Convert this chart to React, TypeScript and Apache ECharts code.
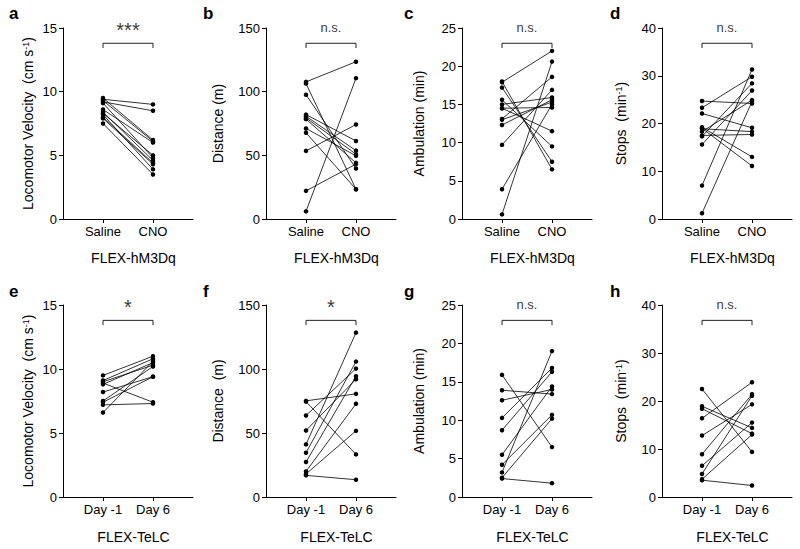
import React, { useEffect, useRef } from "react";
import * as echarts from "echarts";

// ---- data ----
const panelLetters = ["a", "b", "c", "d", "e", "f", "g", "h"];
const topGroups = ["Saline", "CNO"];
const bottomGroups = ["Day -1", "Day 6"];
const topGroupName = "FLEX-hM3Dq";
const bottomGroupName = "FLEX-TeLC";
const yNames = [
  "Locomotor Velocity  (cm s{sup|-1})",
  "Distance (m)",
  "Ambulation (min)",
  "Stops  (min{sup|-1})",
  "Locomotor Velocity  (cm s{sup|-1})",
  "Distance  (m)",
  "Ambulation (min)",
  "Stops  (min{sup|-1})",
];
const yMax = [15, 150, 25, 40, 15, 150, 25, 40];
const yInterval = [5, 50, 5, 10, 5, 50, 5, 10];
const significance = ["***", "n.s.", "n.s.", "n.s.", "*", "*", "n.s.", "n.s."];

// hM3Dq: Saline -> CNO
const velocityM3Saline = [9.4, 9.2, 9.5, 9.3, 8.6, 8.3, 9.1, 8.4, 8.0, 7.9, 8.2, 7.5];
const velocityM3CNO = [9.0, 8.5, 6.2, 6.1, 6.0, 5.0, 4.8, 4.6, 4.4, 4.3, 3.9, 3.5];
const distanceM3Saline = [107.7, 6.0, 53.5, 22.1, 106.4, 97.6, 82.0, 80.7, 79.4, 78.4, 71.1, 67.7];
const distanceM3CNO = [123.5, 110.6, 74.2, 43.1, 23.4, 39.7, 61.3, 53.7, 50.9, 44.1, 49.6, 23.4];
const ambulationM3Saline = [17.9, 0.6, 3.9, 9.7, 18.0, 17.2, 15.6, 15.0, 14.5, 14.5, 13.1, 13.0, 12.3];
const ambulationM3CNO = [22.0, 20.6, 15.0, 16.9, 6.5, 7.5, 9.5, 15.9, 14.6, 11.5, 18.6, 15.3, 15.6];
const stopsM3Saline = [24.7, 23.3, 22.1, 19.2, 19.0, 18.9, 17.5, 17.3, 15.6, 7.0, 1.2, 18.3];
const stopsM3CNO = [24.2, 29.8, 19.1, 13.0, 11.1, 18.3, 17.7, 28.4, 26.9, 31.3, 24.6, 24.9];

// TeLC: Day -1 -> Day 6
const velocityTeBefore = [9.5, 9.1, 9.0, 8.9, 8.8, 8.2, 7.5, 7.4, 7.2, 6.6];
const velocityTeAfter = [11.0, 10.8, 10.3, 7.4, 10.5, 9.4, 10.2, 9.4, 7.3, 10.6];
const distanceTeBefore = [75.1, 74.5, 63.7, 52.0, 41.1, 34.6, 27.3, 20.0, 18.0, 16.9];
const distanceTeAfter = [80.6, 33.3, 100.3, 92.0, 128.4, 105.8, 94.4, 72.8, 51.7, 13.5];
const ambulationTeBefore = [15.9, 13.9, 12.6, 10.3, 8.7, 5.5, 4.2, 3.2, 2.5, 2.4];
const ambulationTeAfter = [6.5, 13.4, 14.0, 16.8, 16.3, 14.4, 10.7, 19.0, 10.2, 1.8];
const stopsTeBefore = [22.5, 18.9, 18.4, 16.4, 12.8, 8.9, 6.5, 4.8, 3.7, 3.5];
const stopsTeAfter = [9.4, 14.4, 13.2, 23.9, 19.3, 21.4, 15.5, 21.1, 13.0, 2.4];

const panelsBefore = [
  velocityM3Saline, distanceM3Saline, ambulationM3Saline, stopsM3Saline,
  velocityTeBefore, distanceTeBefore, ambulationTeBefore, stopsTeBefore,
];
const panelsAfter = [
  velocityM3CNO, distanceM3CNO, ambulationM3CNO, stopsM3CNO,
  velocityTeAfter, distanceTeAfter, ambulationTeAfter, stopsTeAfter,
];

// ---- layout ----
const colLeft = [63, 266, 462, 662];
const letterLeft = [9, 203, 404, 610];
const rowTop = [28, 305];
const rowHeight = [191, 192];
const gridWidth = 130;
const yNameGap = [28, 41, 36, 34];
const FONT = "'Liberation Sans', Arial, Helvetica, sans-serif";

function buildOption() {
  const grid: any[] = [];
  const xAxis: any[] = [];
  const yAxis: any[] = [];
  const series: any[] = [];
  const graphic: any[] = [];

  for (let i = 0; i < 8; i++) {
    const row = i < 4 ? 0 : 1;
    const col = i % 4;
    const groups = row === 0 ? topGroups : bottomGroups;
    grid.push({
      left: colLeft[col],
      top: rowTop[row],
      width: gridWidth,
      height: rowHeight[row],
      containLabel: false,
    });
    xAxis.push({
      type: "value",
      gridIndex: i,
      min: -0.8,
      max: 1.8,
      name: row === 0 ? topGroupName : bottomGroupName,
      nameLocation: "middle",
      nameGap: row === 0 ? 32 : 33,
      nameMoveOverlap: false,
      nameTextStyle: { fontSize: 14, color: "#000", fontFamily: FONT, padding: [0, 0, 0, 11] },
      axisLine: { show: true, onZero: false, lineStyle: { color: "#000", width: 1 } },
      axisTick: { show: true, length: 4, customValues: [0, 1], lineStyle: { color: "#000" } },
      axisLabel: {
        show: true,
        customValues: [0, 1],
        fontSize: 13,
        color: "#000",
        fontFamily: FONT,
        margin: 6,
        formatter: (v: number) => (Math.round(v) === 0 ? groups[0] : groups[1]),
      },
      splitLine: { show: false },
    });
    yAxis.push({
      type: "value",
      gridIndex: i,
      min: 0,
      max: yMax[i],
      interval: yInterval[i],
      name: yNames[i],
      nameLocation: "middle",
      nameGap: yNameGap[col],
      nameMoveOverlap: false,
      nameTextStyle: {
        fontSize: 14,
        color: "#000",
        fontFamily: FONT,
        rich: {
          sup: { fontSize: 9, verticalAlign: "top", color: "#000", fontFamily: FONT },
        },
      },
      axisLine: { show: true, onZero: false, lineStyle: { color: "#000", width: 1 } },
      axisTick: { show: true, length: 4, lineStyle: { color: "#000" } },
      axisLabel: { fontSize: 13, color: "#000", fontFamily: FONT, margin: 6 },
      splitLine: { show: false },
    });

    const before = panelsBefore[i];
    const after = panelsAfter[i];
    for (let j = 0; j < before.length; j++) {
      series.push({
        type: "line",
        xAxisIndex: i,
        yAxisIndex: i,
        data: [
          [0, before[j]],
          [1, after[j]],
        ],
        symbol: "circle",
        symbolSize: 4.5,
        itemStyle: { color: "#000" },
        lineStyle: { color: "#000", width: 0.8 },
        emphasis: { disabled: true },
        z: 3,
      });
    }
    const m = yMax[i];
    const by = 0.92 * m;
    const drop = 0.025 * m;
    series.push({
      type: "line",
      xAxisIndex: i,
      yAxisIndex: i,
      data: [
        [0, by - drop],
        [0, by],
        [1, by],
        [1, by - drop],
      ],
      symbol: "none",
      lineStyle: { color: "#222", width: 1 },
      z: 2,
    });
    const isStar = significance[i].indexOf("*") >= 0;
    series.push({
      type: "scatter",
      xAxisIndex: i,
      yAxisIndex: i,
      data: [[0.5, by]],
      symbolSize: 0,
      clip: false,
      label: {
        show: true,
        position: "inside",
        formatter: significance[i],
        fontSize: isStar ? 20 : 13,
        color: "#000",
        fontFamily: FONT,
        offset: [0, isStar ? -13 : -16],
      },
      z: 4,
    });

    graphic.push({
      type: "text",
      left: letterLeft[col],
      top: row === 0 ? 5 : 283,
      style: { text: panelLetters[i], font: `bold 17px ${FONT}`, fill: "#000" },
    });
  }

  return {
    animation: false,
    backgroundColor: "#fff",
    textStyle: { fontFamily: FONT },
    grid,
    xAxis,
    yAxis,
    series,
    graphic,
  };
}

export default function App() {
  const ref = useRef<HTMLDivElement>(null);
  useEffect(() => {
    if (!ref.current) return;
    const chart = echarts.init(ref.current, null, { renderer: "svg" });
    chart.setOption(buildOption() as any);
    return () => chart.dispose();
  }, []);
  return (
    <div
      ref={ref}
      style={{ position: "fixed", left: 0, top: 0, width: 800, height: 549, background: "#fff" }}
    />
  );
}
